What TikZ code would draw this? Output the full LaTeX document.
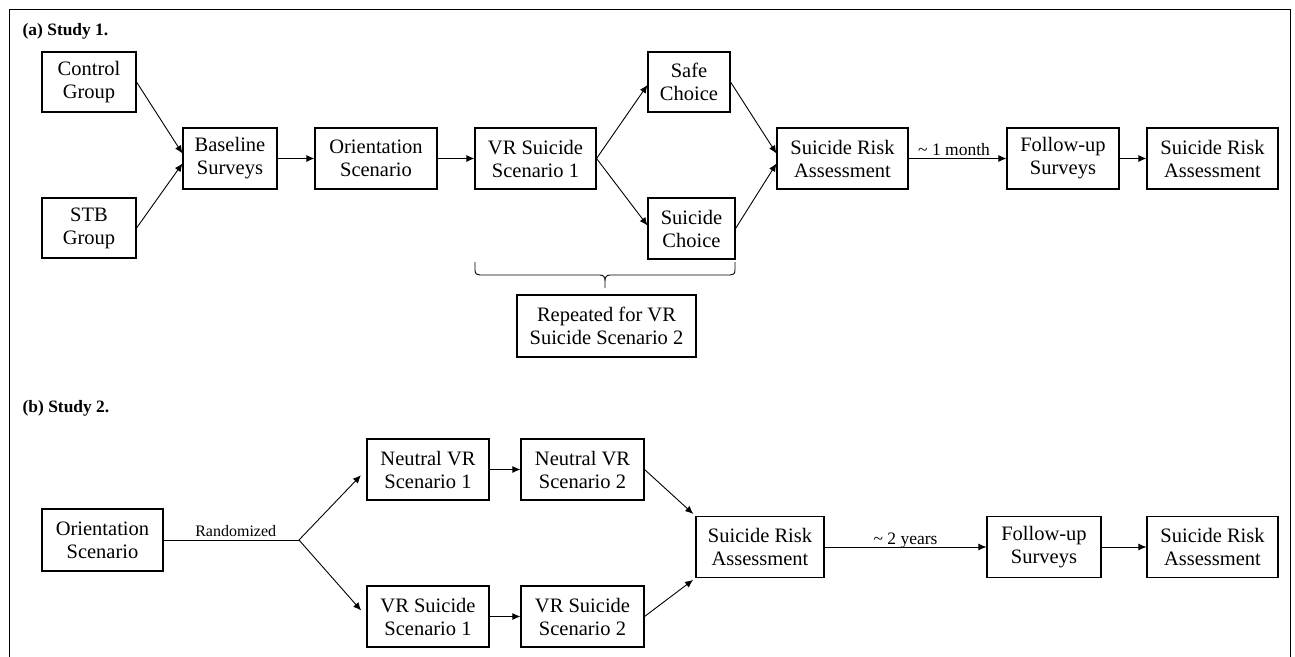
\documentclass[tikz,border=0pt]{standalone}
\usepackage{fontspec}
\setmainfont{Liberation Serif}
\usetikzlibrary{arrows.meta,calc}
\begin{document}
\begin{tikzpicture}[x=1pt,y=-1pt,
  box/.style={draw, line width=1.1pt, align=center, inner sep=0pt, font=\fontsize{20.5}{23}\selectfont},
  conn/.style={line width=0.9pt, -{Latex[length=8pt,width=7pt]}},
  plain/.style={line width=0.9pt},
  lbl/.style={font=\fontsize{17.5}{20}\selectfont, inner sep=0pt, anchor=base},
  ttl/.style={font=\bfseries\fontsize{17.4}{20}\selectfont, inner sep=0pt, anchor=base west}]
\useasboundingbox (0,0) rectangle (1295,656);
\draw[line width=1.6pt] (9.5,662) -- (9.5,9.5) -- (1290.5,9.5) -- (1290.5,662);

% ---------- Study 1 ----------
\node[ttl] (ta) at (22.5,35) {(a) Study 1.};
\node[box, minimum width=94pt, minimum height=60pt] (ctrl) at (89,82) {Control\\Group};
\node[box, minimum width=94pt, minimum height=60pt] (stb) at (89,228) {STB\\Group};
\node[box, minimum width=94pt, minimum height=61pt] (base) at (230,158.5) {Baseline\\Surveys};
\node[box, minimum width=122pt, minimum height=61pt] (or1) at (376,158.5) {Orientation\\Scenario};
\node[box, minimum width=121pt, minimum height=61pt] (vr1) at (535.5,158.5) {VR Suicide\\Scenario 1};
\node[box, minimum width=82pt, minimum height=60pt] (safe) at (689,82) {Safe\\Choice};
\node[box, minimum width=87pt, minimum height=61pt] (sch) at (691.5,228.5) {Suicide\\Choice};
\node[box, minimum width=131pt, minimum height=61pt] (sra1) at (842.5,158.5) {Suicide Risk\\Assessment};
\node[box, minimum width=112pt, minimum height=61pt] (fu1) at (1063,158.5) {Follow-up\\Surveys};
\node[box, minimum width=131pt, minimum height=61pt] (srb1) at (1212.5,158.5) {Suicide Risk\\Assessment};
\node[box, minimum width=179pt, minimum height=62pt] (rep) at (606.5,326) {Repeated for VR\\Suicide Scenario 2};

\draw[conn] (ctrl.east) -- ($(base.west)+(0,-5)$);
\draw[conn] (stb.east) -- ($(base.west)+(0,5)$);
\draw[conn] (base.east) -- (or1.west);
\draw[conn] (or1.east) -- (vr1.west);
\draw[conn] (vr1.east) -- ($(safe.west)+(0,3)$);
\draw[conn] (vr1.east) -- ($(sch.west)+(0,-3)$);
\draw[conn] (safe.east) -- ($(sra1.west)+(0,-5)$);
\draw[conn] (sch.east) -- ($(sra1.west)+(0,5)$);
\draw[conn] (sra1.east) -- node[lbl, pos=0.465, yshift=3.5pt] {\textasciitilde{} 1 month} (fu1.west);
\draw[conn] (fu1.east) -- (srb1.west);

% brace
\draw[plain] (475,262) -- (475,270) .. controls (475,274) and (477,275) .. (480,275)
  -- (600,275) .. controls (603.5,275) and (605,277) .. (605,281) -- (605,288)
  -- (605,281) .. controls (605,277) and (606.5,275) .. (610,275)
  -- (730,275) .. controls (733,275) and (735,274) .. (735,270) -- (735,262);

% ---------- Study 2 ----------
\node[ttl] (tb) at (22.5,412) {(b) Study 2.};
\node[box, minimum width=121pt, minimum height=62pt] (or2) at (102.5,540) {Orientation\\Scenario};
\coordinate (jn) at (299,540);
\node[box, minimum width=122pt, minimum height=61pt] (nvr1) at (428,469.5) {Neutral VR\\Scenario 1};
\node[box, minimum width=123pt, minimum height=61pt] (nvr2) at (582.5,469.5) {Neutral VR\\Scenario 2};
\node[box, minimum width=122pt, minimum height=61pt] (svr1) at (428,616.5) {VR Suicide\\Scenario 1};
\node[box, minimum width=123pt, minimum height=61pt] (svr2) at (582.5,616.5) {VR Suicide\\Scenario 2};
\node[box, minimum width=128pt, minimum height=61pt] (sra2) at (760,547) {Suicide Risk\\Assessment};
\node[box, minimum width=114pt, minimum height=61pt] (fu2) at (1044,547) {Follow-up\\Surveys};
\node[box, minimum width=131pt, minimum height=61pt] (srb2) at (1212.5,547) {Suicide Risk\\Assessment};

\draw[plain] (or2.east) -- node[lbl, pos=0.533, yshift=4pt, font=\fontsize{16}{18}\selectfont] {Randomized} (jn);
\draw[conn, shorten >=8pt] (jn) -- (nvr1.west);
\draw[conn, shorten >=8pt] (jn) -- (svr1.west);
\draw[conn] (nvr1.east) -- (nvr2.west);
\draw[conn] (svr1.east) -- (svr2.west);
\draw[conn, shorten >=3pt] (nvr2.east) -- (sra2.north west);
\draw[conn, shorten >=3pt] (svr2.east) -- (sra2.south west);
\draw[conn] (sra2.east) -- node[lbl, yshift=2.5pt] {\textasciitilde{} 2 years} (fu2.west);
\draw[conn] (fu2.east) -- (srb2.west);
\end{tikzpicture}
\end{document}
